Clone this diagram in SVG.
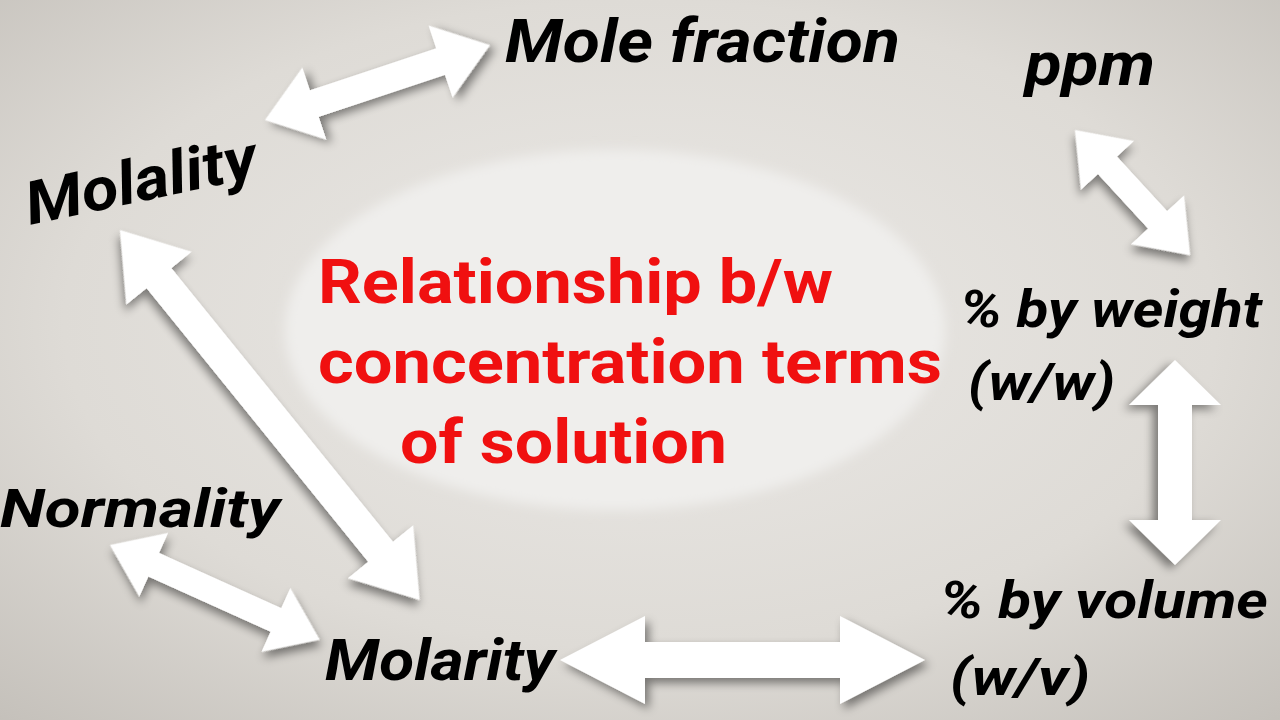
<svg xmlns="http://www.w3.org/2000/svg" width="1280" height="720" viewBox="0 0 1280 720">
<defs>
<radialGradient id="bg" cx="0.5" cy="0.45" r="0.75">
<stop offset="0" stop-color="#ebe9e6"/><stop offset="0.6" stop-color="#dedbd6"/><stop offset="1" stop-color="#c4c0ba"/>
</radialGradient>
<filter id="sh" x="-20%" y="-40%" width="140%" height="180%">
<feDropShadow dx="4" dy="5" stdDeviation="5" flood-color="#000" flood-opacity="0.45"/>
</filter>
<filter id="blur"><feGaussianBlur stdDeviation="6"/></filter>
</defs>
<style>
.ar{fill:#fff;filter:url(#sh)}
.t{font-family:Roboto,"Liberation Sans",sans-serif;font-weight:bold;font-style:italic;fill:#000}
.r{font-family:Roboto,"Liberation Sans",sans-serif;font-weight:bold;fill:#f01010;font-size:62px}
</style>
<rect width="1280" height="720" fill="url(#bg)"/>
<ellipse cx="615" cy="330" rx="330" ry="180" fill="#efeeec" filter="url(#blur)"/>
<g id="connectors">
<path class="ar" transform="translate(265,120) rotate(-18.4)" d="M0,0 L52,-38 L52,-14 L185,-14 L185,-38 L237,0 L185,38 L185,14 L52,14 L52,38 Z"/>
<path class="ar" transform="translate(1075,130) rotate(47.4)" d="M0,0 L48,-36 L48,-13 L122,-13 L122,-36 L170,0 L122,36 L122,13 L48,13 L48,36 Z"/>
<path class="ar" transform="translate(1175,360) rotate(90)" d="M0,0 L45,-46 L45,-17 L160,-17 L160,-46 L205,0 L160,46 L160,17 L45,17 L45,46 Z"/>
<path class="ar" transform="translate(120,230) rotate(51)" d="M0,0 L62,-42 L62,-16 L414,-16 L414,-42 L476,0 L414,42 L414,16 L62,16 L62,42 Z"/>
<path class="ar" transform="translate(110,545) rotate(24.3)" d="M0,0 L48,-35 L48,-13 L182,-13 L182,-35 L230,0 L182,35 L182,13 L48,13 L48,35 Z"/>
<path class="ar" transform="translate(560,660) rotate(0)" d="M0,0 L85,-44 L85,-18 L280,-18 L280,-44 L365,0 L280,44 L280,18 L85,18 L85,44 Z"/>
</g>
<g id="center"><text class="r" x="318" y="303" textLength="515" lengthAdjust="spacingAndGlyphs">Relationship b/w</text><text class="r" x="318" y="383" textLength="624" lengthAdjust="spacingAndGlyphs">concentration terms</text><text class="r" x="400" y="463" textLength="327" lengthAdjust="spacingAndGlyphs">of solution</text></g>
<g id="molefraction"><text class="t" x="505" y="62" font-size="60" textLength="395" lengthAdjust="spacingAndGlyphs">Mole fraction</text></g>
<g id="ppm"><text class="t" x="1025" y="85" font-size="60" textLength="130" lengthAdjust="spacingAndGlyphs">ppm</text></g>
<g id="molality"><text class="t" font-size="60" transform="translate(30,225) rotate(-12)" textLength="235" lengthAdjust="spacingAndGlyphs">Molality</text></g>
<g id="weight"><text class="t" x="960" y="327" font-size="52" textLength="302" lengthAdjust="spacingAndGlyphs">% by weight</text><text class="t" x="968" y="400" font-size="52" textLength="147" lengthAdjust="spacingAndGlyphs">(w/w)</text></g>
<g id="normality"><text class="t" x="0" y="527" font-size="54" textLength="280" lengthAdjust="spacingAndGlyphs">Normality</text></g>
<g id="molarity"><text class="t" x="325" y="680" font-size="58" textLength="230" lengthAdjust="spacingAndGlyphs">Molarity</text></g>
<g id="volume"><text class="t" x="940" y="618" font-size="52" textLength="328" lengthAdjust="spacingAndGlyphs">% by volume</text><text class="t" x="950" y="695" font-size="52" textLength="140" lengthAdjust="spacingAndGlyphs">(w/v)</text></g>
</svg>
